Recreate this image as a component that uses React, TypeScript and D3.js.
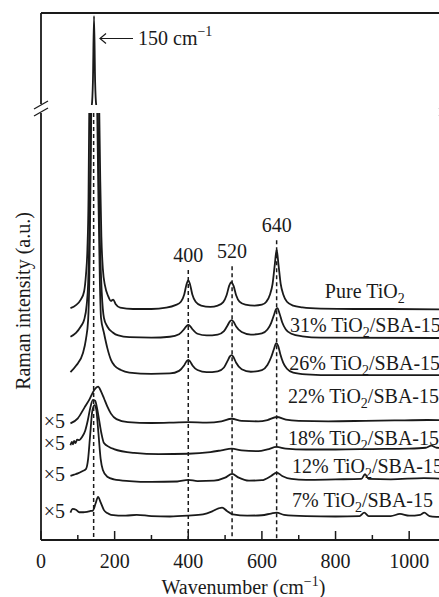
import * as d3 from "d3";

type Pt = [number, number];

// Raman spectra, stacked: [wavenumber (cm^-1), intensity (a.u.)]
const pureTiO2: Pt[] = [
  [80, 54.3], [95, 55.0], [108, 56.3], [117, 58.2], [122, 62], [126, 68], [129, 80], [131, 100],
  [134, 140], [138, 190], [141, 400], [144, 990], [147, 400], [150, 190], [154, 140], [158, 102],
  [161, 84], [164, 71], [168, 63.5], [174, 59.5], [182, 57.2], [190, 56], [196, 56.3], [203, 55.2],
  [215, 54.4], [250, 54.1], [300, 54.1], [340, 54.4], [365, 55], [380, 55.8], [389, 57.5], [395, 59.8],
  [400, 60.8], [405, 59.8], [411, 57.5], [420, 55.8], [435, 54.9], [460, 54.6], [480, 54.9], [495, 55.7],
  [504, 57.3], [511, 59.5], [517, 60.4], [523, 59.5], [530, 57.3], [539, 55.8], [555, 55.1], [580, 54.9],
  [600, 55.1], [612, 55.8], [622, 57.5], [629, 60], [635, 64.5], [640, 68], [645, 64.5], [651, 60],
  [658, 57.5], [668, 55.8], [685, 54.9], [710, 54.5], [760, 54.2], [850, 54.1], [950, 54.1], [1100, 54.0],
];

const tio2sba31: Pt[] = [
  [80, 47.6], [95, 48.5], [108, 50], [117, 51.5], [124, 55], [128, 60], [131, 70], [134, 88],
  [137, 112], [141, 145], [144, 160], [148, 145], [152, 115], [156, 90], [160, 70], [165, 58],
  [171, 52], [180, 50], [195, 48.6], [210, 47.9], [240, 47.5], [300, 47.4], [350, 47.6], [375, 48.2],
  [388, 49.3], [395, 50.1], [400, 50.4], [405, 50.1], [412, 49.3], [425, 48.3], [450, 47.9], [480, 48.1],
  [497, 48.9], [507, 50.3], [513, 51.2], [518, 51.5], [523, 51.1], [530, 50], [545, 48.7], [570, 48.1],
  [600, 48.4], [615, 49.3], [625, 50.8], [632, 52.5], [638, 54], [642, 54.3], [648, 53], [655, 51],
  [665, 49.3], [680, 48.3], [710, 47.7], [760, 47.4], [1100, 47.3],
];

const tio2sba26: Pt[] = [
  [80, 39.3], [95, 40.8], [114, 43.8], [122, 47], [128, 51.5], [131, 60], [134, 80], [137, 105],
  [141, 132], [144, 142], [148, 132], [152, 105], [156, 80], [160, 60], [163, 52], [171, 48.5],
  [180, 45], [190, 42.2], [200, 40.8], [217, 39.8], [240, 39.2], [300, 38.9], [350, 39], [375, 39.6],
  [388, 40.8], [395, 41.8], [400, 42.2], [405, 41.8], [412, 40.8], [425, 39.8], [450, 39.3], [480, 39.5],
  [497, 40.4], [507, 42], [513, 43], [518, 43.3], [523, 42.8], [530, 41.5], [545, 40], [570, 39.4],
  [600, 39.8], [615, 41], [625, 42.8], [633, 44.8], [639, 46.1], [644, 45.5], [650, 43.5], [658, 41.5],
  [668, 40.1], [685, 39.2], [720, 38.8], [800, 38.6], [1100, 38.6],
];

const tio2sba22: Pt[] = [
  [80, 27.3], [100, 28.5], [118, 31], [132, 33], [145, 35.2], [155, 35.9], [163, 34.8], [171, 33.2],
  [180, 31.3], [190, 29.6], [205, 28.3], [236, 27.6], [300, 27.4], [360, 27.5], [400, 27.6], [450, 27.5],
  [490, 27.8], [518, 28.4], [545, 27.9], [590, 27.8], [615, 28.1], [640, 28.8], [665, 28.2], [700, 27.9],
  [780, 27.8], [880, 27.9], [960, 28], [1050, 28.1], [1100, 28],
];

const tio2sba18: Pt[] = [
  [80, 22.2], [84, 23], [87, 22.4], [90, 23.2], [94, 22.7], [98, 23.5], [104, 23.4], [112, 24.2],
  [120, 25.6], [127, 28], [134, 31], [141, 32.8], [147, 32.6], [152, 31], [158, 28], [164, 25],
  [171, 22.7], [185, 21.8], [198, 21.3], [253, 20.4], [320, 20.1], [400, 20.2], [460, 20.6], [490, 21],
  [518, 21.4], [545, 21], [590, 20.8], [615, 21.2], [640, 21.8], [665, 21.4], [720, 21.2], [800, 21.2],
  [900, 21.3], [1000, 21.4], [1045, 21.6], [1060, 22.1], [1075, 21.6], [1100, 21.5],
];

const tio2sba12: Pt[] = [
  [80, 15], [90, 15.3], [100, 15.6], [112, 16.1], [122, 16.6], [128, 19], [133, 24], [139, 30],
  [145, 31.6], [150, 30.6], [156, 25], [162, 19], [168, 16.4], [180, 14.8], [198, 14.2], [240, 13.8],
  [300, 13.6], [370, 13.7], [400, 14.1], [425, 13.8], [470, 13.9], [500, 14.6], [519, 15.5], [537, 14.6],
  [565, 13.9], [600, 14], [625, 15], [640, 15.8], [655, 15], [680, 14.3], [720, 14.1], [800, 14.2],
  [870, 14.3], [880, 15.4], [890, 14.3], [950, 14.2], [1040, 14.5], [1100, 14.3],
];

const tio2sba7: Pt[] = [
  [80, 6.4], [86, 7.3], [95, 7.1], [104, 6.5], [115, 6.5], [125, 6.6], [135, 6.8], [141, 6.9],
  [148, 8.5], [155, 10.1], [162, 8.8], [171, 7.0], [180, 6.3], [190, 5.9], [230, 5.7], [260, 5.9],
  [300, 5.6], [350, 5.5], [400, 5.7], [440, 6.0], [465, 6.7], [482, 7.4], [492, 7.6], [505, 6.8],
  [521, 6.0], [560, 5.7], [600, 5.8], [625, 6.2], [640, 6.4], [660, 5.9], [720, 5.6], [800, 5.5],
  [865, 5.6], [878, 6.4], [890, 5.6], [950, 5.6], [975, 6.1], [1000, 5.7], [1030, 5.9], [1041, 6.4],
  [1055, 5.6], [1080, 5.4], [1100, 5.3],
];

const spectra = [pureTiO2, tio2sba31, tio2sba26, tio2sba22, tio2sba18, tio2sba12, tio2sba7];
const loadings = ["Pure", "31%", "26%", "22%", "18%", "12%", "7%"];
const magnified = [false, false, false, true, true, true, true];

const peakLines = [143, 400, 519, 640];
const peakNames = ["", "400", "520", "640"];
const xMajor = [0, 200, 400, 600, 800, 1000];

// annotation anchors (data units)
const labelAt: Pt[] = [[771, 56.7], [676, 48.7], [674, 39.8], [671, 32.1], [671, 22.2], [682, 15.7], [682, 7.7]];
const peakLabelLevel = [100, 65.1, 66, 72.1];

const FONT = "'Liberation Serif', 'Times New Roman', serif";
const INK = "#1a1a1a";

export default function App() {
  const W = 439;
  const H = 597;
  const x = d3.scaleLinear().domain([0, 1100]).range([41, 446]);
  const yLow = d3.scaleLinear().domain([0, 100]).range([540, 113]);
  const yHigh = d3.scaleLinear().domain([190, 1000]).range([105, 15]);

  const lineLow = d3.line<Pt>().x((d) => x(d[0])).y((d) => yLow(d[1])).curve(d3.curveMonotoneX);
  const lineHigh = d3.line<Pt>().x((d) => x(d[0])).y((d) => yHigh(d[1])).curve(d3.curveMonotoneX);

  const [x0, x1] = x.range();
  const yTop = 13;
  const yBot = 540;
  const minor = x.ticks(11).filter((t) => t % 200 !== 0);

  const slash = (cx: number, cy: number) => `M${cx - 7},${cy + 4}L${cx + 7},${cy - 4}`;

  return (
    <svg
      width={W}
      height={H}
      style={{ position: "absolute", left: 0, top: 0, background: "#fff", display: "block", fontFamily: FONT }}
    >
      <defs>
        <clipPath id="lowClip">
          <rect x={x0} y={113} width={x1 - x0} height={yBot - 113} />
        </clipPath>
        <clipPath id="highClip">
          <rect x={x0} y={yTop} width={x1 - x0} height={105 - yTop} />
        </clipPath>
      </defs>

      {/* dashed peak guides */}
      {peakLines.map((p, i) => (
        <line
          key={"pk" + p}
          x1={x(p)}
          x2={x(p)}
          y1={i === 0 ? 113 : yLow(peakLabelLevel[i]) + 8}
          y2={yBot}
          stroke={INK}
          strokeWidth={1.5}
          strokeDasharray="4,3"
        />
      ))}
      {peakNames.map((n, i) =>
        n ? (
          <text key={"pn" + n} x={x(peakLines[i])} y={yLow(peakLabelLevel[i])} textAnchor="middle" fontSize={20} fill={INK}>
            {n}
          </text>
        ) : null
      )}

      {/* spectra */}
      <g clipPath="url(#lowClip)">
        {spectra.map((s, i) => (
          <path key={"s" + i} d={lineLow(s) ?? ""} fill="none" stroke={INK} strokeWidth={1.8} strokeLinejoin="round" />
        ))}
      </g>
      <g clipPath="url(#highClip)">
        <path d={lineHigh(pureTiO2) ?? ""} fill="none" stroke={INK} strokeWidth={1.8} />
      </g>

      {/* sample labels */}
      {loadings.map((l, i) => (
        <text key={"l" + i} x={x(labelAt[i][0])} y={yLow(labelAt[i][1])} fontSize={20} fill={INK}>
          {l === "Pure" ? "Pure TiO" : `${l} TiO`}
          <tspan fontSize={14} dy={5}>2</tspan>
          {l === "Pure" ? null : <tspan dy={-5}>/SBA-15</tspan>}
        </text>
      ))}
      {magnified.map((m, i) =>
        m ? (
          <text key={"m" + i} x={65} y={yLow(spectra[i][0][1]) + 5} textAnchor="end" fontSize={20} fill={INK}>
            ×5
          </text>
        ) : null
      )}

      {/* frame */}
      <g stroke={INK} strokeWidth={1.8} fill="none">
        <line x1={x0} x2={x1} y1={yTop} y2={yTop} />
        <line x1={x0} x2={x1} y1={yBot} y2={yBot} />
        <line x1={x0} x2={x0} y1={yTop} y2={104} />
        <line x1={x0} x2={x0} y1={113} y2={yBot} />
        <line x1={x1} x2={x1} y1={yTop} y2={104} />
        <line x1={x1} x2={x1} y1={113} y2={yBot} />
      </g>
      <g stroke={INK} strokeWidth={1.3}>
        <path d={slash(x0, 105)} />
        <path d={slash(x0, 112)} />
        <path d={slash(x1, 105)} />
        <path d={slash(x1, 112)} />
      </g>

      {/* x ticks */}
      <g stroke={INK} strokeWidth={1.5}>
        {xMajor.map((t) => (
          <line key={"M" + t} x1={x(t)} x2={x(t)} y1={yBot} y2={yBot - 9} />
        ))}
        {minor.map((t) => (
          <line key={"m" + t} x1={x(t)} x2={x(t)} y1={yBot} y2={yBot - 5} />
        ))}
      </g>
      {xMajor.map((t) => (
        <text key={"t" + t} x={x(t)} y={568} textAnchor="middle" fontSize={20} fill={INK}>
          {t}
        </text>
      ))}

      {/* axis titles */}
      <text x={x((x.domain()[0] + x.domain()[1]) / 2)} y={594} textAnchor="middle" fontSize={20} fill={INK}>
        Wavenumber (cm
        <tspan fontSize={14} dy={-8}>−1</tspan>
        <tspan dy={8}>)</tspan>
      </text>
      <text transform="translate(30,301) rotate(-90)" textAnchor="middle" fontSize={20} fill={INK}>
        Raman intensity (a.u.)
      </text>

      {/* 150 cm-1 annotation */}
      <g stroke={INK} strokeWidth={1.2} fill="none">
        <line x1={100} x2={133} y1={38.5} y2={38.5} />
        <path d="M106,33.5L100,38.5L106,43.5" />
      </g>
      <text x={138} y={45} fontSize={20} fill={INK}>
        150 cm
        <tspan fontSize={14} dy={-9}>−1</tspan>
      </text>
    </svg>
  );
}
